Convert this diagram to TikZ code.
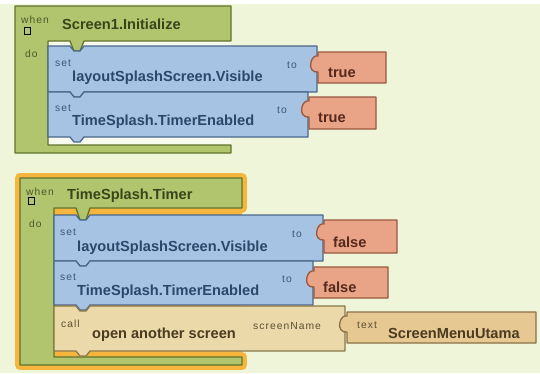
\documentclass[tikz,border=0pt]{standalone}
\usepackage{fontspec}
\setmainfont{Liberation Sans}
\newfontfamily\lblfont[LetterSpace=10]{Liberation Sans}
\definecolor{bgc}{HTML}{EEF5D9}
\definecolor{gapc}{HTML}{F8FAEE}
\definecolor{grfill}{HTML}{B1C56E}
\definecolor{grline}{HTML}{62732C}
\definecolor{blfill}{HTML}{A6C3E4}
\definecolor{blline}{HTML}{4A688C}
\definecolor{safill}{HTML}{E9A487}
\definecolor{saline}{HTML}{985840}
\definecolor{tafill}{HTML}{EBD9A9}
\definecolor{taline}{HTML}{8A784B}
\definecolor{txfill}{HTML}{E6C892}
\definecolor{txline}{HTML}{8A7046}
\definecolor{selc}{HTML}{F6B53C}
\definecolor{grtext}{HTML}{37461A}
\definecolor{grsmall}{HTML}{4A5A2C}
\definecolor{bltext}{HTML}{2B486B}
\definecolor{blsmall}{HTML}{3D5877}
\definecolor{satext}{HTML}{57281C}
\definecolor{tatext}{HTML}{4A3B21}
\definecolor{tasmall}{HTML}{5C4E33}
% statement block: style, L, T, R, B
\newcommand{\aiStmt}[5]{\path[#1] (#2,#3) -- (#2+22,#3) -- (#2+26,#3+5) -- (#2+32,#3+5) -- (#2+36,#3) -- (#4,#3) -- (#4,#5) -- (#2+36,#5) -- (#2+32,#5+5) -- (#2+26,#5+5) -- (#2+22,#5) -- (#2,#5) -- cycle;}
% value block with left plug: style, L, T, R, B
\newcommand{\aiVal}[5]{\path[#1] (#2,#3) -- (#4,#3) -- (#4,#5) -- (#2,#5) -- (#2,#3+20) .. controls (#2-5,#3+21) and (#2-9,#3+16) .. (#2-7,#3+10) .. controls (#2-6,#3+6) and (#2-3,#3+3) .. (#2,#3+4) -- cycle;}
\begin{document}
\begin{tikzpicture}[x=1pt,y=-1pt,
  evt/.style={fill=grfill,draw=grline,line width=1.3pt,line join=round},
  stm/.style={fill=blfill,draw=blline,line width=1.3pt,line join=round},
  cll/.style={fill=tafill,draw=taline,line width=1.3pt,line join=round},
  val/.style={fill=safill,draw=saline,line width=1.3pt,line join=round},
  txv/.style={fill=txfill,draw=txline,line width=1.3pt,line join=round},
  big/.style={anchor=base west,inner sep=0pt,font=\fontsize{14.6}{16}\selectfont\bfseries},
  small/.style={anchor=base west,inner sep=0pt,font=\fontsize{10.3}{12}\lblfont},
  chk/.style={draw=black,line width=1pt}]
\useasboundingbox (0,0) rectangle (540,373);
\fill[bgc] (0,0) rectangle (540,373);
\fill[white] (0,0) rectangle (540,4);

% ---------- event 1 ----------
\fill[gapc] (48,41) rectangle (231,145);
\path[evt] (15,6) -- (231,6) -- (231,41) -- (84,41) -- (80,51) -- (74,51) -- (70,41) -- (48,41) -- (48,145) -- (231,145) -- (231,153) -- (15,153) -- cycle;
\aiStmt{stm}{48}{46}{317}{92}
\aiStmt{stm}{48}{92}{308}{137}
\aiVal{val}{318}{52}{386}{83}
\aiVal{val}{309}{97}{376}{129}
\draw[chk] (24,27) rectangle (30,34);
\node[small,text=grsmall] (w1) at (21,23) {when};
\node[small,text=grsmall] (d1) at (25,57) {do};
\node[big,text=grtext] (e1) at (62,29) {Screen1.Initialize};
\node[small,text=blsmall] (s1) at (55,66) {set};
\node[big,text=bltext] (v1) at (72,81) {layoutSplashScreen.Visible};
\node[small,text=blsmall] (t1) at (287,68) {to};
\node[big,text=satext] (b1) at (328,77) {true};
\node[small,text=blsmall] (s2) at (55,111) {set};
\node[big,text=bltext] (v2) at (72,125) {TimeSplash.TimerEnabled};
\node[small,text=blsmall] (t2) at (277,113) {to};
\node[big,text=satext] (b2) at (318,122) {true};

% ---------- event 2 (selected) ----------
\fill[selc] (54,208) rectangle (242,357);
\draw[selc,line width=10pt,line join=round] (20,178) -- (242,178) -- (242,208) -- (54,208) -- (54,357) -- (242,357) -- (242,365) -- (20,365) -- cycle;
\path[evt] (20,178) -- (242,178) -- (242,208) -- (90,208) -- (86,220) -- (80,220) -- (76,208) -- (54,208) -- (54,357) -- (242,357) -- (242,365) -- (20,365) -- cycle;
\aiStmt{stm}{54}{215}{323}{261}
\aiStmt{stm}{54}{261}{313}{305}
\aiStmt{cll}{54}{306}{345}{351}
\aiVal{val}{324}{220}{397}{253}
\aiVal{val}{314}{267}{388}{298}
\aiVal{txv}{347}{312}{536}{343}
\draw[chk] (28,197) rectangle (34,204);
\node[small,text=grsmall] (w2) at (26,195) {when};
\node[small,text=grsmall] (d2) at (29,227) {do};
\node[big,text=grtext] (e2) at (67,199) {TimeSplash.Timer};
\node[small,text=blsmall] (s3) at (60,235) {set};
\node[big,text=bltext] (v3) at (77,251) {layoutSplashScreen.Visible};
\node[small,text=blsmall] (t3) at (292,237) {to};
\node[big,text=satext] (b3) at (333,247) {false};
\node[small,text=blsmall] (s4) at (60,280) {set};
\node[big,text=bltext] (v4) at (77,295) {TimeSplash.TimerEnabled};
\node[small,text=blsmall] (t4) at (282,282) {to};
\node[big,text=satext] (b4) at (323,292) {false};
\node[small,text=tasmall] (c1) at (61,327) {call};
\node[big,text=tatext] (o1) at (92,338) {open another screen};
\node[small,text=tasmall] (sn) at (253,329) {screenName};
\node[small,text=tasmall] (tx) at (357,328) {text};
\node[big,text=tatext] (sm) at (388,338) {ScreenMenuUtama};
\end{tikzpicture}
\end{document}
